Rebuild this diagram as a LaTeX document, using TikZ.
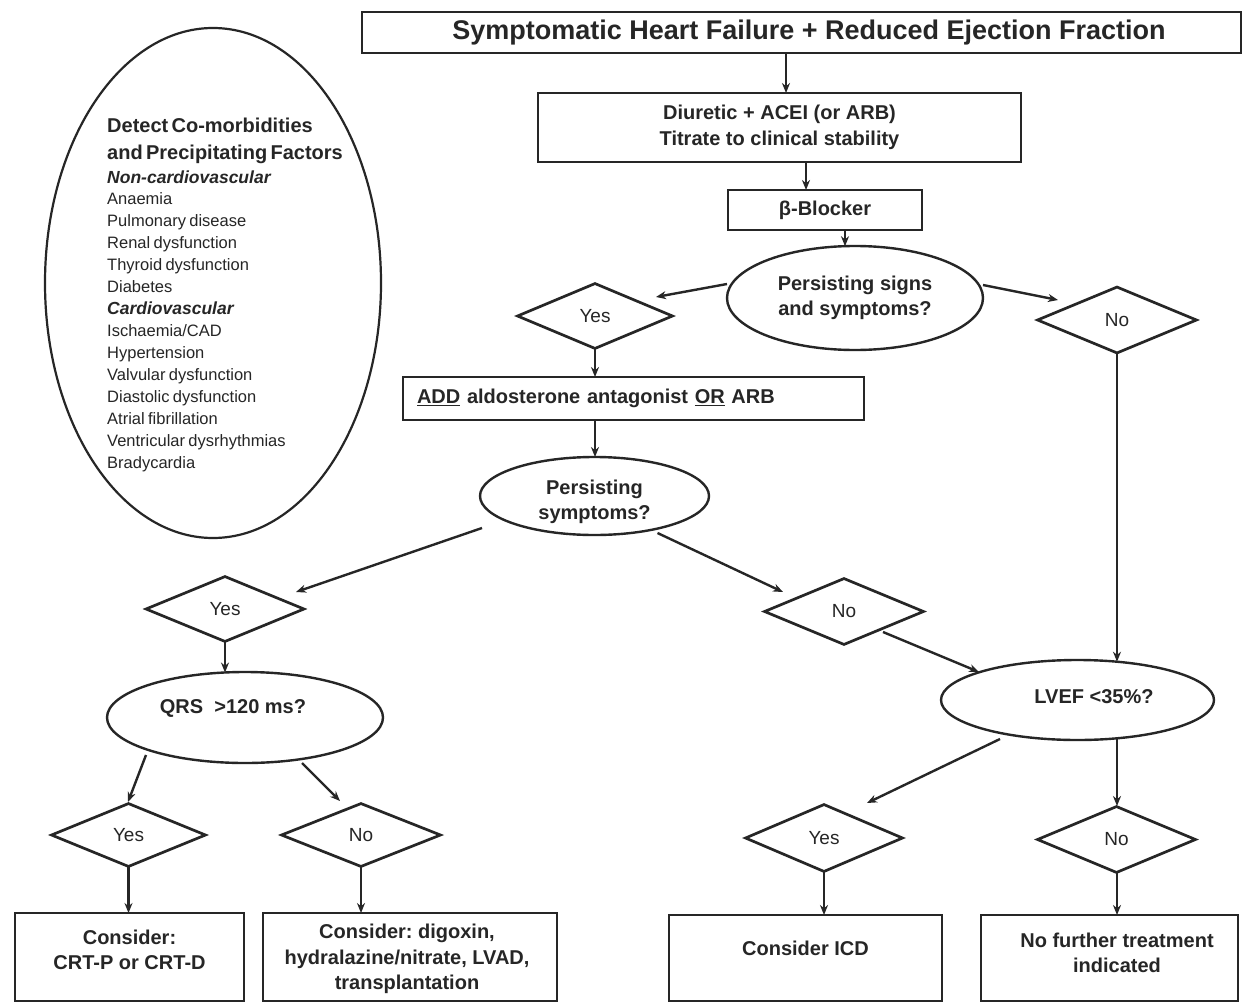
\documentclass[tikz,border=0pt]{standalone}
\usepackage{fontspec}
\setmainfont{Liberation Sans}
\usetikzlibrary{shapes.geometric,arrows.meta}
\definecolor{ink}{HTML}{262626}
\frenchspacing
\begin{document}
\begin{tikzpicture}[x=1pt,y=-1pt,
  every node/.style={inner sep=0pt, text=ink},
  box/.style={draw=ink, line width=2.9pt, rectangle},
  dia/.style={draw=ink, line width=2.7pt, diamond, font=\fontsize{19}{22}\selectfont},
  ell/.style={draw=ink, line width=2.4pt, ellipse},
  btxt/.style={font=\bfseries\fontsize{20}{25.5}\selectfont, align=center},
  arr/.style={draw=ink, line width=2.4pt, -{Stealth[length=10pt,width=8pt]}}]
\fill[white] (0,0) rectangle (1244,1003);
\useasboundingbox (0,0) rectangle (1244,1003);

% comorbidities ellipse
\node[ell, line width=2.2pt, minimum width=336pt, minimum height=510pt] (cm) at (213,283) {};
\node[anchor=north west, text width=260pt, align=left,
      execute at begin node={\parindent=0pt}] (cmT) at (107,117.5) {%
{\bfseries\fontsize{20}{27}\selectfont Detect Co-morbidities\\and Precipitating Factors\par}%
{\bfseries\itshape\fontsize{17.5}{24}\selectfont Non-cardiovascular\par}%
{\fontsize{16.5}{21}\selectfont Anaemia\par}%
{\fontsize{16.5}{22}\selectfont Pulmonary disease\\Renal dysfunction\\Thyroid dysfunction\\Diabetes\par}%
{\bfseries\itshape\fontsize{17.5}{22}\selectfont Cardiovascular\par}%
{\fontsize{16.5}{22}\selectfont Ischaemia/CAD\\Hypertension\\Valvular dysfunction\\Diastolic dysfunction\\Atrial fibrillation\\Ventricular dysrhythmias\\Bradycardia\par}};

% main flow
\node[box, minimum width=879pt, minimum height=41pt, font=\bfseries\fontsize{27}{30}\selectfont] (title) at (801.5,32.5) {\hspace*{15pt}Symptomatic Heart Failure + Reduced Ejection Fraction};
\node[box, btxt, minimum width=483pt, minimum height=69pt] (diu) at (779.5,127.5) {Diuretic + ACEI (or ARB)\\Titrate to clinical stability};
\node[box, btxt, minimum width=194pt, minimum height=40pt] (bb) at (825,210) {β-Blocker};
\node[ell, btxt, minimum width=256pt, minimum height=104pt] (ps) at (855,298) {Persisting signs\\and symptoms?};
\node[dia, minimum width=156pt, minimum height=66pt] (y1) at (595,316) {Yes};
\node[dia, minimum width=160pt, minimum height=67pt] (n1) at (1117,320) {No};
\node[box, btxt, align=left, text width=433pt, minimum width=461pt, minimum height=43pt] (add) at (633.5,398.5) {\underline{ADD} aldosterone antagonist \underline{OR} ARB};
\node[ell, minimum width=229pt, minimum height=78pt] (psym) at (594.5,496) {};
\node[btxt] (psymT) at ([shift={(0,6)}]psym.center) {Persisting\\symptoms?};

\node[dia, minimum width=159pt, minimum height=66pt] (y2) at (225,609) {Yes};
\node[ell, minimum width=276pt, minimum height=91pt] (qrs) at (245,717.5) {};
\node[btxt] (qrsT) at ([shift={(-12,-9.5)}]qrs.center) {QRS\ \ >120 ms?};
\node[dia, minimum width=155pt, minimum height=64pt] (y3) at (128.5,835) {Yes};
\node[dia, minimum width=160pt, minimum height=64pt] (n3) at (361,835) {No};
\node[box, minimum width=229pt, minimum height=88pt] (crt) at (129.5,957) {};
\node[btxt] (crtT) at ([shift={(0,-7)}]crt.center) {Consider:\\CRT-P or CRT-D};
\node[box, minimum width=294pt, minimum height=88pt] (dig) at (410,957) {};
\node[btxt] (digT) at ([shift={(-3,2)}]dig.center) {Consider: digoxin,\\hydralazine/nitrate, LVAD,\\transplantation};

\node[dia, minimum width=160pt, minimum height=67pt] (n2) at (844,611.5) {No};
\node[ell, minimum width=273pt, minimum height=80pt] (lvef) at (1077.5,700) {};
\node[btxt] (lvefT) at ([shift={(16.5,-3)}]lvef.center) {LVEF <35\%?};
\node[dia, minimum width=158pt, minimum height=68pt] (y4) at (824,838) {Yes};
\node[dia, minimum width=159pt, minimum height=67pt] (n4) at (1116.5,839.5) {No};
\node[box, minimum width=273pt, minimum height=86pt] (icd) at (805.5,958) {};
\node[btxt] (icdT) at ([shift={(0,-10)}]icd.center) {Consider ICD};
\node[box, minimum width=257pt, minimum height=86pt] (nf) at (1109.5,958) {};
\node[btxt] (nfT) at ([shift={(7.5,-5)}]nf.center) {No further treatment\\indicated};

% connectors
\draw[arr] ([shift={(-15.5,20.5)}]title.center) -- ([shift={(6.5,-34.5)}]diu.center);
\draw[arr] ([shift={(26.5,34.5)}]diu.center) -- ([shift={(-19,-20)}]bb.center);
\draw[arr] ([shift={(20,20)}]bb.center) -- ([shift={(-10,-51.8)}]ps.center);
\draw[arr] ([shift={(-128,-14)}]ps.center) -- ([shift={(61,-19)}]y1.center);
\draw[arr] ([shift={(128,-13)}]ps.center) -- ([shift={(-59,-20)}]n1.center);
\draw[arr] ([shift={(0,33)}]y1.center) -- ([shift={(-38.5,-21.5)}]add.center);
\draw[arr] ([shift={(0,33.5)}]n1.center) -- ([shift={(39.5,-38.3)}]lvef.center);
\draw[arr] ([shift={(-38.5,21.5)}]add.center) -- ([shift={(0.5,-39)}]psym.center);
\draw[arr] ([shift={(-112.5,32)}]psym.center) -- ([shift={(71,-17)}]y2.center);
\draw[arr] ([shift={(0,33)}]y2.center) -- ([shift={(-20,-45)}]qrs.center);
\draw[arr] ([shift={(-99,37.5)}]qrs.center) -- ([shift={(-0.5,-33)}]y3.center);
\draw[arr] ([shift={(57,45.5)}]qrs.center) -- ([shift={(-21,-34)}]n3.center);
\draw[arr] ([shift={(0,32)}]y3.center) -- ([shift={(-1,-44)}]crt.center);
\draw[arr] ([shift={(0,32)}]n3.center) -- ([shift={(-49,-44)}]dig.center);
\draw[arr] ([shift={(63,37)}]psym.center) -- ([shift={(-61,-19.5)}]n2.center);
\draw[arr] ([shift={(39,20.5)}]n2.center) -- ([shift={(-98.5,-28)}]lvef.center);
\draw[arr] ([shift={(-77.5,39)}]lvef.center) -- ([shift={(43,-35)}]y4.center);
\draw[arr] ([shift={(39.5,38.3)}]lvef.center) -- ([shift={(0.5,-33.5)}]n4.center);
\draw[arr] ([shift={(0,34)}]y4.center) -- ([shift={(18.5,-43)}]icd.center);
\draw[arr] ([shift={(0.5,33.5)}]n4.center) -- ([shift={(7.5,-43)}]nf.center);
\end{tikzpicture}
\end{document}
